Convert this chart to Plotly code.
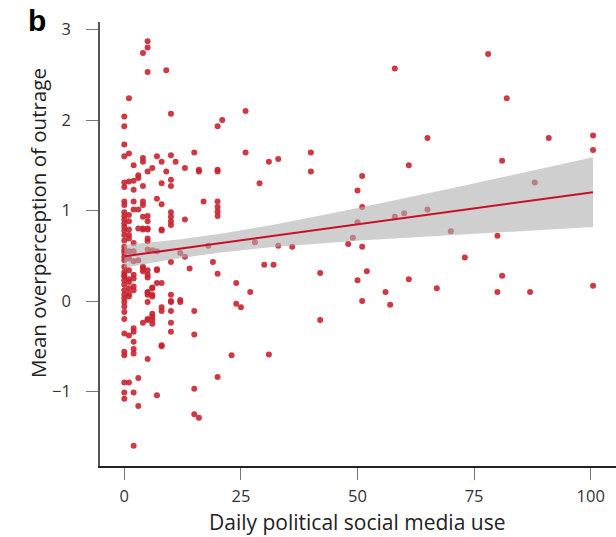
import numpy as np
import plotly.graph_objects as go

# ---- data (x = daily political social media use, y = mean overperception)
col_x = [0, 1, 2, 3, 4, 5, 6, 7, 8, 9, 10]
col_y = [
    [2.04, 1.93, 1.73, 1.60, 1.31, 1.26, 1.10, 1.06, 0.98, 0.94, 0.90, 0.86, 0.82, 0.78, 0.73, 0.67,
     0.60, 0.56, 0.53, 0.49, 0.45, 0.38, 0.32, 0.29, 0.27, 0.23, 0.18, 0.12, 0.07, 0.03, -0.01,
     -0.06, -0.12, -0.20, -0.36, -0.56, -0.60, -0.90, -1.01, -1.08],
    [2.24, 1.63, 1.32, 0.95, 0.88, 0.79, 0.73, 0.69, 0.55, 0.47, 0.34, 0.24, 0.21, 0.14, 0.08, 0.05,
     -0.38, -0.90],
    [1.50, 1.33, 1.23, 1.10, 1.01, 0.64, 0.55, 0.44, 0.29, 0.25, 0.16, 0.12, -0.30, -0.34, -0.45,
     -0.53, -0.58, -1.01, -1.60],
    [1.39, 1.36, 1.01, 0.80, 0.45, -0.85, -1.16],
    [2.74, 1.58, 1.54, 1.27, 1.10, 1.06, 0.93, 0.80, 0.79, 0.38, 0.36, 0.33, -0.24],
    [2.87, 2.80, 2.53, 1.43, 0.94, 0.88, 0.80, 0.79, 0.69, 0.66, 0.57, 0.34, 0.29, 0.26, 0.10, 0.09,
     0.07, -0.01, -0.20, -0.21, -0.64],
    [1.47, 0.56, 0.15, 0.14, 0.07, 0.05, -0.14, -0.17, -0.21, -0.25],
    [1.60, 1.13, 0.55, 0.35, 0.34, 0.20, -1.04],
    [1.54, 1.30, 1.07, 0.79, 0.78, 0.20, -0.07, -0.11, -0.49, -0.50],
    [2.55, 1.43],
    [2.07, 1.61, 1.34, 1.27, 0.98, 0.93, 0.88, 0.84, 0.43, 0.07, 0.00, -0.01, -0.11, -0.24, -0.34],
]
sparse_x = [11, 12, 12, 12, 13, 13, 13, 14, 15, 15, 15, 15, 15, 16, 16, 16, 17, 18, 19,
            20, 20, 20, 20, 20, 20, 20, 20, 20, 21, 23, 24, 24, 25, 26, 26, 27, 28, 29, 30,
            31, 31, 32, 33, 33, 36, 40, 40, 42, 42, 48, 49, 50, 50, 50, 51, 51, 51, 51, 52,
            56, 57, 58, 58, 60, 61, 61, 65, 65, 67, 70, 73, 78, 80, 80, 81, 81, 82, 87, 88,
            91, 100.5, 100.5, 100.5]
sparse_y = [1.54, 0.53, -0.01, 0.01, 1.47, 0.90, 0.49, 0.36, 1.64, -0.11, -0.37, -0.97, -1.25,
            1.45, 1.43, -1.29, 1.10, 0.61, 0.43,
            1.93, 1.45, 1.43, 1.10, 1.04, 0.99, 0.94, 0.30, -0.84, 2.00, -0.60, 0.20, -0.03,
            -0.07, 2.10, 1.64, 0.10, 0.65, 1.30, 0.40,
            1.54, -0.59, 0.40, 1.57, 0.61, 0.60, 1.64, 1.43, 0.31, -0.21, 0.63, 0.70, 1.22,
            0.87, 0.23, 1.38, 1.04, 0.60, 0.00, 0.33,
            0.10, -0.04, 2.57, 0.93, 0.97, 1.50, 0.24, 1.80, 1.01, 0.14, 0.77, 0.48, 2.73,
            0.72, 0.10, 1.55, 0.28, 2.24, 0.10, 1.31,
            1.80, 1.83, 1.67, 0.17]

x_ticks = [0, 25, 50, 75, 100]
y_ticks = [-1, 0, 1, 2, 3]

# ---- assemble
xs, ys = [], []
for cx, vals in zip(col_x, col_y):
    xs += [cx] * len(vals)
    ys += vals
xs += sparse_x
ys += sparse_y
x = np.array(xs, dtype=float)
y = np.array(ys, dtype=float)

# ---- linear fit with 95% confidence band
n = len(x)
b1, b0 = np.polyfit(x, y, 1)
resid = y - (b0 + b1 * x)
s = np.sqrt(np.sum(resid ** 2) / (n - 2))
xbar = x.mean()
sxx = np.sum((x - xbar) ** 2)
gx = np.linspace(x.min(), x.max(), 200)
gy = b0 + b1 * gx
se = s * np.sqrt(1.0 / n + (gx - xbar) ** 2 / sxx)
tcrit = 1.97
lo = gy - tcrit * se
hi = gy + tcrit * se

RED = "rgb(200,35,48)"
FONT = "Open Sans"

fig = go.Figure()
fig.add_trace(go.Scatter(x=x, y=y, mode="markers",
                         marker=dict(size=6, color=RED, opacity=0.9, line=dict(width=0)),
                         showlegend=False, hoverinfo="skip"))
fig.add_trace(go.Scatter(x=np.concatenate([gx, gx[::-1]]), y=np.concatenate([hi, lo[::-1]]),
                         fill="toself", mode="lines", line=dict(width=0),
                         fillcolor="rgba(175,175,175,0.6)", showlegend=False, hoverinfo="skip"))
fig.add_trace(go.Scatter(x=gx, y=gy, mode="lines", line=dict(color="rgb(200,16,40)", width=2),
                         showlegend=False, hoverinfo="skip"))

L, R, T, B = 100, 0, 22, 71
W, H = 616, 537
pw, ph = W - L - R, H - T - B

fig.update_layout(
    width=W, height=H,
    margin=dict(l=L, r=R, t=T, b=B),
    paper_bgcolor="white", plot_bgcolor="white",
    font=dict(family=FONT, color="#333333"),
    xaxis=dict(range=[-5.21, 105.42], tickvals=x_ticks, ticktext=[str(v) for v in x_ticks],
               showgrid=False, zeroline=False, showline=True, linecolor="#222222", linewidth=1.5,
               ticks="outside", ticklen=12, tickwidth=1.2, tickcolor="#777777",
               tickfont=dict(size=16.5, color="#333333", family=FONT), ticklabelstandoff=2),
    yaxis=dict(range=[-1.823, 3.083], tickvals=y_ticks,
               ticktext=["\u22121", "0", "1", "2", "3"],
               showgrid=False, zeroline=False, showline=True, linecolor="#555555", linewidth=1.5,
               ticks="outside", ticklen=12, tickwidth=1.2, tickcolor="#777777",
               tickfont=dict(size=16.5, color="#333333", family=FONT), ticklabelstandoff=12),
    annotations=[
        dict(text="Daily political social media use", xref="paper", yref="paper",
             x=(357 - L) / pw, y=(H - B - 522) / ph, xanchor="center", yanchor="middle",
             showarrow=False, font=dict(size=21, color="#222222", family=FONT)),
        dict(text="Mean overperception of outrage", xref="paper", yref="paper",
             x=(38 - L) / pw, y=(H - B - 223) / ph, xanchor="center", yanchor="middle",
             textangle=-90, showarrow=False, font=dict(size=20.5, color="#222222", family=FONT)),
        dict(text="<b>b</b>", xref="paper", yref="paper",
             x=(26 - L) / pw, y=(H - B - 21) / ph, xanchor="left", yanchor="middle",
             showarrow=False, font=dict(size=30, color="black", family="Liberation Sans")),
    ],
)

fig.write_html("out.html")
